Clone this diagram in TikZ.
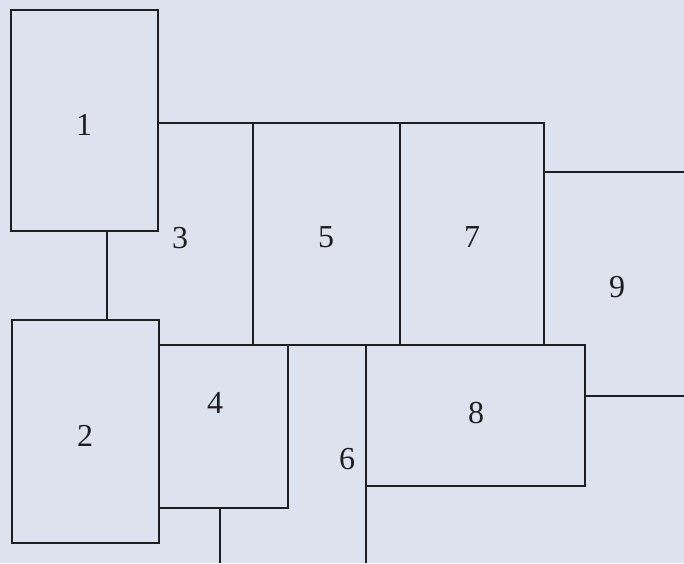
\documentclass[tikz,border=0pt]{standalone}
\usepackage{fontspec}
\setmainfont{Liberation Serif}
\usetikzlibrary{positioning}
\definecolor{paper}{RGB}{222,225,238}
\definecolor{ink}{RGB}{30,30,34}

\begin{document}
\begin{tikzpicture}[x=1pt,y=-1pt,line width=1.9pt,
    room/.style={draw=ink,rectangle,inner sep=0pt,outer sep=0pt,anchor=north west},
    num/.style={font=\fontsize{32}{38}\selectfont,text=ink,inner sep=0pt}]
      \fill[paper] (0,0) rectangle (684,563);
      \useasboundingbox (0,0) rectangle (684,563);
      % rooms with a closed outline
      \node[room,minimum width=147pt,minimum height=221pt] (r1) at (11,10) {};
      \node[room,minimum width=147pt,minimum height=223pt] (r2) at (12,320) {};
      \node[room,minimum width=129pt,minimum height=163pt] (r4) at (159,345) {};
      \node[room,minimum width=147pt,minimum height=222pt] (r5) at (253,123) {};
      \node[room,minimum width=144pt,minimum height=222pt] (r7) at (400,123) {};
      \node[room,minimum width=219pt,minimum height=141pt] (r8) at (366,345) {};
      % free ends at the border
      \coordinate (link12) at (107,0);
      \coordinate (edge9a) at (684,172);
      \coordinate (edge9b) at (684,396);
      \coordinate (foot4) at (220,563);
      \coordinate (foot8) at (366,563);
      % walls between the rooms
      \draw[ink] (r1.south -| link12) -- (r2.north -| link12);
      \draw[ink] (r1.east |- r5.north) -- (r5.north west);
      \draw[ink] (r7.east |- edge9a) -- (edge9a);
      \draw[ink] (r8.east |- edge9b) -- (edge9b);
      \draw[ink] (r4.south -| foot4) -- (foot4);
      \draw[ink] (r8.south west) -- (foot8);
      % room numbers
      \node[num] (n1) at (84,125) {1};
      \node[num] (n2) at (85,436) {2};
      \node[num] (n3) at (180,238) {3};
      \node[num] (n4) at (215,403) {4};
      \node[num] (n5) at (326,237) {5};
      \node[num] (n6) at (347,459) {6};
      \node[num] (n7) at (472,237) {7};
      \node[num] (n8) at (476,413) {8};
      \node[num] (n9) at (617,287) {9};
    \end{tikzpicture}
\end{document}
